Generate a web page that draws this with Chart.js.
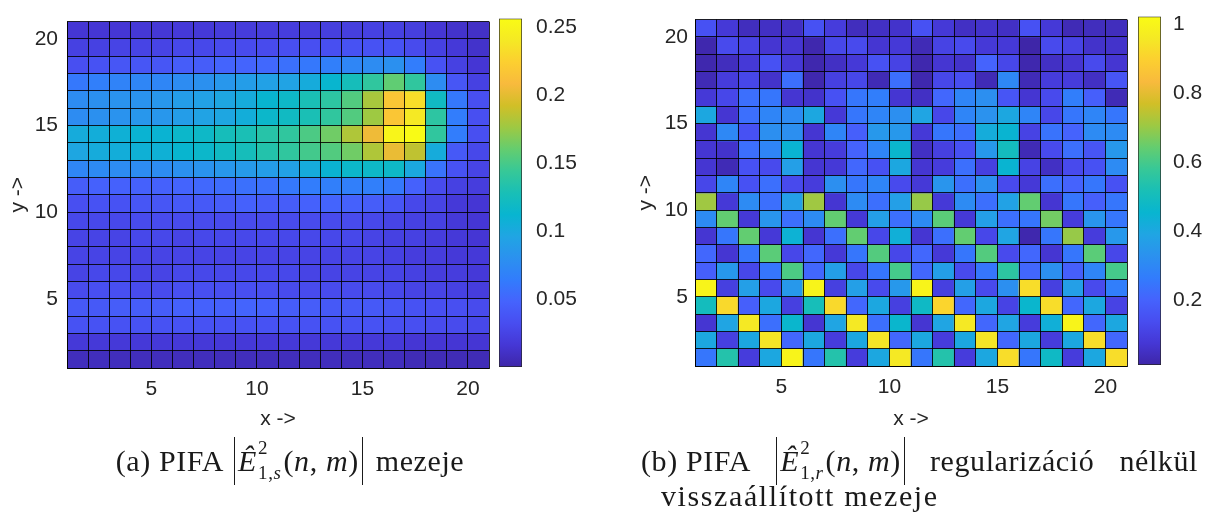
<!DOCTYPE html>
<html lang="hu">
<head>
<meta charset="utf-8">
<title>PIFA mezeje</title>
<script src="https://cdn.jsdelivr.net/npm/chart.js@4/dist/chart.umd.min.js"></script>
<style>
    body { margin: 0; background: #fff; width: 1206px; height: 513px; position: relative; overflow: hidden; }
    canvas { position: absolute; }
    .cap { position: absolute; display: flex; align-items: center; font-family: 'Liberation Serif', 'Times New Roman', serif;
           font-size: 30px; color: #1a1a1a; white-space: nowrap; letter-spacing: 0.6px; }
    .abs { display: inline-flex; align-items: center; height: 48px; padding: 0 3px;
           border-left: 1.3px solid #1a1a1a; border-right: 1.3px solid #1a1a1a; }
    .ss { display: inline-flex; flex-direction: column; font-size: 19px; line-height: 18px; margin: 0 2px 0 1px; }
    .ss .sup { transform: translateY(-4px); }
    .ss .sub { transform: translateY(3px); }
</style>
</head>
<body>
<canvas id="heatA" width="500" height="440" style="left:0;top:0"></canvas>
<canvas id="barA" width="110" height="440" style="left:490px;top:0"></canvas>
<canvas id="heatB" width="520" height="440" style="left:620px;top:0"></canvas>
<canvas id="barB" width="78" height="440" style="left:1128px;top:0"></canvas>

<div class="cap" style="left:0;top:437px;width:580px;justify-content:center">
    <span>(a) PIFA</span>
    <span class="abs" style="margin:0 13px 0 10px"><i>Ê</i><span class="ss"><span class="sup">2</span><span class="sub">1,<i>s</i></span></span>(<i>n</i>,&nbsp;<i>m</i>)</span>
    <span>mezeje</span>
</div>
<div class="cap" style="left:641px;top:437px;width:557px;justify-content:space-between">
    <span>(b) PIFA</span>
    <span class="abs"><i>Ê</i><span class="ss"><span class="sup">2</span><span class="sub">1,<i>r</i></span></span>(<i>n</i>,&nbsp;<i>m</i>)</span>
    <span>regularizáció</span>
    <span>nélkül</span>
</div>
<div class="cap" style="left:661px;top:478px;height:36px;letter-spacing:1.6px">visszaállított mezeje</div>

<script>
// ====== DATA ======
const xTicks = [5, 10, 15, 20];
const yTicks = [5, 10, 15, 20];
const barTicksA = [0.05, 0.1, 0.15, 0.2, 0.25];
const barTicksB = [0.2, 0.4, 0.6, 0.8, 1];
const climA = [0.0005, 0.2566];
const climB = [0.011, 1.023];

// (a) mért mező, sorok felülről lefelé: y = 20 ... 1, oszlopok x = 1 ... 20
const fieldA = [
    [0.016,0.016,0.016,0.017,0.017,0.018,0.018,0.020,0.020,0.021,0.021,0.021,0.022,0.022,0.024,0.024,0.022,0.016,0.013,0.011],
    [0.024,0.024,0.026,0.026,0.026,0.029,0.029,0.031,0.031,0.031,0.034,0.034,0.034,0.036,0.036,0.036,0.031,0.024,0.018,0.013],
    [0.034,0.036,0.039,0.039,0.039,0.044,0.044,0.049,0.049,0.052,0.057,0.062,0.067,0.072,0.077,0.080,0.065,0.036,0.024,0.016],
    [0.062,0.067,0.070,0.072,0.072,0.077,0.080,0.085,0.090,0.093,0.095,0.103,0.113,0.126,0.141,0.159,0.141,0.077,0.039,0.024],
    [0.077,0.080,0.082,0.082,0.085,0.090,0.093,0.098,0.103,0.113,0.118,0.129,0.139,0.154,0.180,0.218,0.234,0.121,0.062,0.034],
    [0.077,0.080,0.082,0.085,0.085,0.090,0.095,0.098,0.105,0.116,0.121,0.129,0.141,0.154,0.177,0.218,0.241,0.139,0.065,0.034],
    [0.103,0.105,0.108,0.111,0.111,0.116,0.118,0.126,0.129,0.136,0.141,0.152,0.164,0.182,0.205,0.251,0.257,0.141,0.065,0.034],
    [0.098,0.103,0.105,0.108,0.108,0.113,0.116,0.121,0.126,0.134,0.141,0.149,0.154,0.164,0.182,0.203,0.187,0.103,0.041,0.029],
    [0.072,0.075,0.077,0.077,0.077,0.080,0.082,0.085,0.088,0.090,0.093,0.103,0.111,0.116,0.118,0.118,0.100,0.059,0.036,0.026],
    [0.044,0.047,0.047,0.047,0.047,0.049,0.052,0.054,0.057,0.057,0.062,0.065,0.067,0.067,0.067,0.062,0.047,0.031,0.024,0.021],
    [0.034,0.036,0.036,0.039,0.039,0.041,0.041,0.044,0.047,0.044,0.044,0.047,0.049,0.047,0.044,0.039,0.029,0.026,0.018,0.016],
    [0.029,0.029,0.029,0.031,0.031,0.031,0.031,0.031,0.031,0.031,0.031,0.031,0.031,0.031,0.029,0.026,0.024,0.024,0.018,0.016],
    [0.026,0.026,0.026,0.029,0.029,0.026,0.029,0.029,0.029,0.029,0.029,0.029,0.029,0.029,0.026,0.024,0.024,0.021,0.018,0.016],
    [0.026,0.026,0.026,0.026,0.026,0.026,0.026,0.026,0.026,0.026,0.026,0.026,0.026,0.026,0.026,0.024,0.021,0.021,0.018,0.018],
    [0.026,0.029,0.029,0.026,0.026,0.029,0.029,0.029,0.029,0.029,0.029,0.026,0.026,0.026,0.026,0.026,0.024,0.021,0.021,0.018],
    [0.031,0.034,0.034,0.031,0.031,0.034,0.034,0.034,0.034,0.034,0.031,0.031,0.031,0.031,0.031,0.029,0.026,0.026,0.024,0.021],
    [0.041,0.041,0.044,0.044,0.044,0.047,0.047,0.047,0.049,0.047,0.044,0.044,0.041,0.041,0.041,0.039,0.036,0.034,0.034,0.031],
    [0.036,0.036,0.036,0.036,0.036,0.036,0.036,0.036,0.036,0.036,0.036,0.036,0.036,0.036,0.036,0.034,0.034,0.031,0.031,0.029],
    [0.018,0.018,0.018,0.018,0.018,0.018,0.018,0.018,0.018,0.018,0.018,0.018,0.018,0.018,0.018,0.018,0.016,0.016,0.016,0.016],
    [0.008,0.008,0.008,0.008,0.008,0.008,0.008,0.008,0.008,0.008,0.008,0.008,0.008,0.008,0.008,0.008,0.006,0.006,0.006,0.006],
];

// (b) regularizáció nélkül visszaállított mező, ugyanabban a sorrendben
const fieldB = [
    [0.15,0.08,0.04,0.05,0.05,0.15,0.09,0.04,0.05,0.06,0.15,0.08,0.05,0.06,0.05,0.15,0.08,0.03,0.04,0.04],
    [0.02,0.13,0.11,0.07,0.07,0.02,0.12,0.13,0.07,0.08,0.03,0.11,0.13,0.08,0.08,0.01,0.13,0.11,0.06,0.06],
    [0.02,0.04,0.08,0.15,0.08,0.02,0.05,0.08,0.15,0.11,0.02,0.07,0.06,0.20,0.12,0.02,0.05,0.07,0.13,0.07],
    [0.03,0.09,0.12,0.06,0.23,0.02,0.10,0.12,0.03,0.23,0.02,0.12,0.14,0.03,0.30,0.03,0.09,0.09,0.05,0.16],
    [0.08,0.12,0.23,0.25,0.07,0.06,0.15,0.25,0.27,0.07,0.05,0.21,0.29,0.32,0.16,0.07,0.13,0.27,0.19,0.03],
    [0.40,0.07,0.23,0.29,0.31,0.40,0.08,0.25,0.29,0.32,0.39,0.12,0.29,0.33,0.40,0.29,0.12,0.25,0.29,0.25],
    [0.07,0.30,0.15,0.32,0.32,0.07,0.29,0.19,0.35,0.35,0.08,0.25,0.23,0.42,0.45,0.11,0.24,0.20,0.31,0.31],
    [0.07,0.06,0.23,0.29,0.45,0.07,0.09,0.20,0.29,0.46,0.05,0.10,0.15,0.35,0.50,0.03,0.13,0.23,0.16,0.35],
    [0.07,0.03,0.15,0.13,0.37,0.07,0.08,0.21,0.15,0.40,0.07,0.09,0.23,0.10,0.45,0.11,0.05,0.13,0.15,0.31],
    [0.12,0.29,0.15,0.23,0.13,0.09,0.32,0.25,0.29,0.13,0.08,0.34,0.23,0.32,0.13,0.08,0.23,0.20,0.25,0.15],
    [0.71,0.08,0.31,0.23,0.37,0.71,0.07,0.31,0.23,0.37,0.70,0.08,0.31,0.23,0.38,0.64,0.07,0.25,0.19,0.25],
    [0.31,0.64,0.08,0.34,0.23,0.31,0.64,0.08,0.37,0.23,0.31,0.63,0.08,0.37,0.23,0.25,0.66,0.09,0.34,0.25],
    [0.07,0.25,0.64,0.08,0.44,0.07,0.23,0.64,0.12,0.43,0.07,0.23,0.64,0.12,0.39,0.02,0.25,0.70,0.09,0.35],
    [0.21,0.07,0.25,0.63,0.12,0.21,0.08,0.25,0.62,0.12,0.21,0.08,0.25,0.62,0.13,0.21,0.07,0.25,0.63,0.12],
    [0.19,0.35,0.12,0.25,0.61,0.21,0.37,0.12,0.25,0.60,0.21,0.37,0.13,0.25,0.56,0.21,0.32,0.19,0.29,0.60],
    [1.00,0.10,0.37,0.13,0.35,1.00,0.10,0.37,0.13,0.35,1.00,0.10,0.37,0.13,0.32,0.93,0.10,0.37,0.13,0.27],
    [0.50,0.92,0.19,0.40,0.10,0.51,0.92,0.21,0.40,0.10,0.48,0.91,0.21,0.40,0.11,0.46,0.93,0.21,0.40,0.11],
    [0.07,0.39,0.96,0.23,0.46,0.07,0.39,0.96,0.23,0.46,0.07,0.39,0.96,0.21,0.39,0.09,0.43,1.00,0.21,0.40],
    [0.40,0.10,0.40,0.95,0.21,0.40,0.09,0.40,0.95,0.21,0.40,0.09,0.40,0.95,0.21,0.40,0.09,0.40,0.93,0.21],
    [0.25,0.54,0.09,0.40,1.00,0.25,0.54,0.09,0.40,0.96,0.25,0.54,0.09,0.40,0.93,0.25,0.48,0.09,0.40,0.93],
];

// ====== STYLE ======
const TEXT = '#262626';
const EDGE = 'rgba(0,0,0,0.85)';
const TICK_FONT = { family: "'Liberation Sans', Arial, sans-serif", size: 21 };

// parula (MATLAB) colormap, 17 stops
const PARULA = [
    [62,38,168], [69,55,213], [72,77,240], [69,99,253], [50,124,252], [43,145,239],
    [32,165,227], [8,181,208], [25,191,182], [55,200,151], [100,205,111], [157,201,67],
    [209,191,39], [248,186,61], [252,207,48], [245,233,36], [249,251,21],
];

function parula(t) {
    t = Math.min(1, Math.max(0, t));
    const p = t * (PARULA.length - 1);
    const i = Math.min(PARULA.length - 2, Math.floor(p));
    const f = p - i;
    const c = PARULA[i].map((v, k) => Math.round(v + (PARULA[i + 1][k] - v) * f));
    return `rgb(${c[0]},${c[1]},${c[2]})`;
}

// ====== HEATMAP (pcolor) ======
function makeHeatmap(id, field, clim, layout) {
    const rows = field.length;
    const cols = field[0].length;
    const xEdges = Array.from({ length: cols + 1 }, (_, k) => k + 1);
    const yEdges = Array.from({ length: rows + 1 }, (_, k) => k + 1);

    const datasets = field.map((row, i) => {
        const y = rows - i;
        return {
            data: row.map((v, c) => ({ x: c + 1.5, y: [y, y + 1], v })),
            backgroundColor: row.map(v => parula((v - clim[0]) / (clim[1] - clim[0]))),
            borderWidth: 0,
            grouped: false,
            barPercentage: 1,
            categoryPercentage: 1,
        };
    });

    // cell edges are the grid lines, drawn on top of the cells
    const edgeGrid = { color: EDGE, lineWidth: 1, drawTicks: false, offset: false, z: 1 };

    new Chart(document.getElementById(id), {
        type: 'bar',
        data: { datasets },
        options: {
            responsive: false,
            animation: false,
            events: [],
            layout: { padding: layout.padding },
            plugins: { legend: { display: false }, tooltip: { enabled: false } },
            scales: {
                x: {
                    type: 'linear', min: 1, max: cols + 1, offset: false,
                    afterBuildTicks: s => { s.ticks = xEdges.map(value => ({ value })); },
                    afterFit: s => { s.height = layout.xHeight; },
                    grid: edgeGrid,
                    border: { color: EDGE, z: 1 },
                    ticks: {
                        autoSkip: false, maxRotation: 0, padding: 9, color: TEXT, font: TICK_FONT,
                        callback: v => xTicks.includes(v) ? String(v) : ''
                    },
                    title: { display: true, text: 'x ->', color: TEXT, font: TICK_FONT, padding: { bottom: 8 } }
                },
                y: {
                    type: 'linear', min: 1, max: rows + 1, offset: false,
                    afterBuildTicks: s => { s.ticks = yEdges.map(value => ({ value })); },
                    afterFit: s => { s.width = layout.yWidth; },
                    grid: edgeGrid,
                    border: { color: EDGE, z: 1 },
                    ticks: {
                        autoSkip: false, padding: layout.yPad, color: TEXT, font: TICK_FONT,
                        callback: v => yTicks.includes(v) ? String(v) : ''
                    },
                    title: { display: true, text: 'y ->', color: TEXT, font: TICK_FONT, padding: { top: layout.titlePad } }
                }
            }
        }
    });
}

// ====== COLORBAR ======
function makeColorbar(id, clim, ticks, layout) {
    const gradient = ctx => {
        const area = ctx.chart.chartArea;
        if (!area) return parula(0.5);
        const g = ctx.chart.ctx.createLinearGradient(0, area.bottom, 0, area.top);
        PARULA.forEach((c, i) => g.addColorStop(i / (PARULA.length - 1), `rgb(${c[0]},${c[1]},${c[2]})`));
        return g;
    };

    new Chart(document.getElementById(id), {
        type: 'bar',
        data: {
            labels: [''],
            datasets: [{
                data: [clim],
                backgroundColor: gradient,
                borderColor: TEXT,
                borderWidth: 1,
                borderSkipped: false,
                barPercentage: 1,
                categoryPercentage: 1,
            }]
        },
        options: {
            responsive: false,
            animation: false,
            events: [],
            layout: { padding: layout.padding },
            plugins: { legend: { display: false }, tooltip: { enabled: false } },
            scales: {
                x: { display: false },
                y: {
                    position: 'right', min: clim[0], max: clim[1],
                    grid: { display: false }, border: { display: false },
                    afterBuildTicks: s => { s.ticks = ticks.map(value => ({ value })); },
                    afterFit: s => { s.width = layout.axisWidth; },
                    ticks: { padding: layout.tickPad, color: TEXT, font: TICK_FONT, callback: v => String(v) }
                }
            }
        }
    });
}

// ====== INIT ======
makeHeatmap('heatA', fieldA, climA, { padding: { top: 15, right: 11 }, xHeight: 72, yWidth: 67, yPad: 9, titlePad: 6 });
makeColorbar('barA', climA, barTicksA, { padding: { left: 9, top: 15, bottom: 73 }, axisWidth: 78, tickPad: 6 });
makeHeatmap('heatB', fieldB, climB, { padding: { top: 5, right: 13 }, xHeight: 74, yWidth: 75, yPad: 7, titlePad: 14 });
makeColorbar('barB', climB, barTicksB, { padding: { left: 10, top: 6, bottom: 75 }, axisWidth: 45, tickPad: 4 });
</script>
</body>
</html>
